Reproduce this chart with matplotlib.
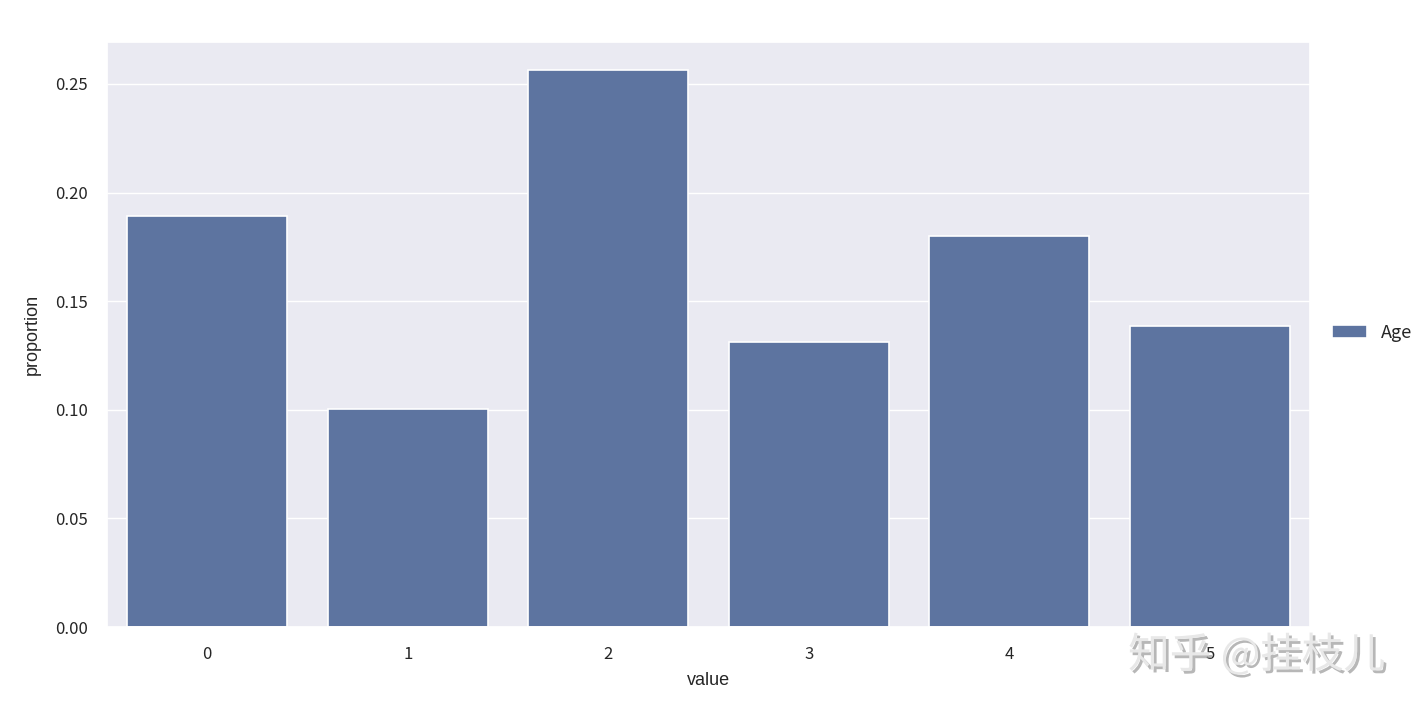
import matplotlib
matplotlib.use("Agg")
import matplotlib.pyplot as plt
import matplotlib.patheffects as pe
import seaborn as sns

# proportions
values = [0, 1, 2, 3, 4, 5]
proportion = [0.1892, 0.1004, 0.2564, 0.1312, 0.1800, 0.1386]
series = "Age"

sns.set_theme(style="darkgrid")
plt.rcParams['font.family'] = ['Noto Sans CJK SC', 'DejaVu Sans']

fig = plt.figure(figsize=(14.28, 7.12), dpi=100)
ax = fig.add_axes([107 / 1428, 1 - 627 / 712, 1203 / 1428, 585 / 712])

ax.bar(values, proportion, width=0.8, color="#5d74a0", edgecolor="white",
       linewidth=1.2, label=series)
ax.set_xlim(-0.5, 5.5)
ax.set_ylim(0, 0.2693)
ax.set_xticks(values)
ax.set_yticks([0, 0.05, 0.10, 0.15, 0.20, 0.25])
ax.set_yticklabels(["0.00", "0.05", "0.10", "0.15", "0.20", "0.25"])
ax.grid(False, axis="x")
ax.tick_params(axis="both", labelsize=12, colors="#262626", pad=8)
ax.set_xlabel("value", fontsize=13, family="Liberation Sans", color="#262626", labelpad=6)
ax.set_ylabel("proportion", fontsize=13, family="Liberation Sans", color="#262626", labelpad=10)

fig.legend(loc="center left", bbox_to_anchor=(1316 / 1428, 1 - 333 / 712),
           frameon=False, fontsize=13, handlelength=1.9, handletextpad=0.8)

# watermark
fig.text(1128 / 1428, 1 - 655 / 712, "知乎 @挂枝儿", fontsize=30, color="#e8e8e8",
         va="center", ha="left",
         path_effects=[pe.withSimplePatchShadow(offset=(2, -2), shadow_rgbFace="#999999", alpha=0.7)])

fig.savefig("out.png", dpi=100)
